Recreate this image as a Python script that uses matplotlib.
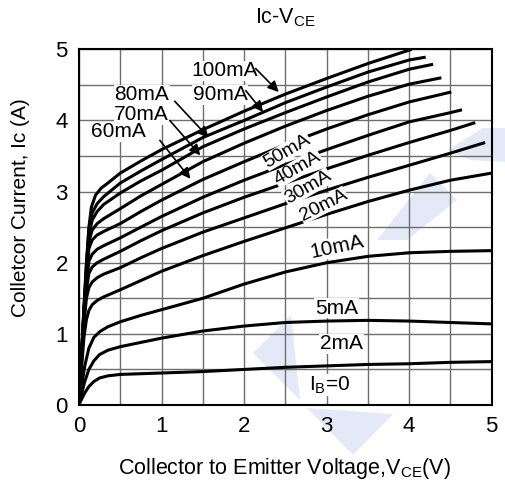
import numpy as np
import matplotlib
matplotlib.use("Agg")
import matplotlib.pyplot as plt
from matplotlib.patches import Polygon

plt.rcParams['font.family'] = ['Liberation Sans', 'DejaVu Sans']
plt.rcParams['mathtext.fontset'] = 'custom'
plt.rcParams['mathtext.rm'] = 'Liberation Sans'
plt.rcParams['mathtext.it'] = 'Liberation Sans:italic'

# Ic-VCE curves (V, A)
vce_2 = [0, 0.03, 0.07, 0.12, 0.18, 0.25, 0.35, 0.5, 1.0, 1.5, 2.0, 2.5, 3.0, 3.5, 4.0, 4.5, 5.0]
ic_2 = [0, 0.08, 0.17, 0.26, 0.33, 0.38, 0.41, 0.43, 0.45, 0.47, 0.50, 0.53, 0.55, 0.57, 0.58, 0.60, 0.61]

vce_5 = [0, 0.03, 0.07, 0.12, 0.18, 0.25, 0.35, 0.5, 0.75, 1.0, 1.5, 2.0, 2.5, 3.0, 3.5, 4.0, 4.5, 5.0]
ic_5 = [0, 0.15, 0.33, 0.50, 0.62, 0.71, 0.77, 0.82, 0.88, 0.94, 1.04, 1.11, 1.16, 1.18, 1.19, 1.18, 1.16, 1.14]

vce_10 = [0, 0.03, 0.07, 0.12, 0.18, 0.25, 0.35, 0.5, 0.75, 1.0, 1.5, 2.0, 2.5, 3.0, 3.5, 4.0, 4.5, 5.0]
ic_10 = [0, 0.25, 0.55, 0.80, 0.95, 1.03, 1.10, 1.17, 1.26, 1.34, 1.50, 1.70, 1.87, 2.00, 2.09, 2.14, 2.16, 2.17]

vce_20 = [0, 0.03, 0.06, 0.09, 0.12, 0.16, 0.22, 0.3, 0.5, 0.75, 1.0, 1.5, 2.0, 2.5, 3.0, 3.5, 4.0, 4.5, 5.0]
ic_20 = [0, 0.5, 0.95, 1.2, 1.33, 1.41, 1.47, 1.52, 1.62, 1.75, 1.88, 2.10, 2.30, 2.49, 2.68, 2.86, 3.02, 3.16, 3.26]

vce_30 = [0, 0.03, 0.06, 0.09, 0.12, 0.16, 0.22, 0.3, 0.5, 0.75, 1.0, 1.5, 2.0, 2.5, 3.0, 3.5, 4.0, 4.5, 4.92]
ic_30 = [0, 0.6, 1.15, 1.5, 1.65, 1.73, 1.79, 1.84, 1.93, 2.07, 2.20, 2.43, 2.63, 2.83, 3.02, 3.20, 3.37, 3.54, 3.69]

vce_40 = [0, 0.03, 0.06, 0.09, 0.12, 0.16, 0.22, 0.3, 0.5, 0.75, 1.0, 1.5, 2.0, 2.5, 3.0, 3.5, 4.0, 4.5, 4.8]
ic_40 = [0, 0.62, 1.2, 1.62, 1.85, 1.94, 2.0, 2.05, 2.16, 2.31, 2.45, 2.70, 2.92, 3.12, 3.32, 3.51, 3.69, 3.86, 3.97]

vce_50 = [0, 0.03, 0.06, 0.09, 0.12, 0.16, 0.22, 0.3, 0.5, 0.75, 1.0, 1.5, 2.0, 2.5, 3.0, 3.5, 4.0, 4.5, 4.64]
ic_50 = [0, 0.64, 1.25, 1.72, 2.02, 2.12, 2.19, 2.24, 2.35, 2.50, 2.65, 2.92, 3.16, 3.38, 3.59, 3.79, 3.98, 4.11, 4.15]

vce_60 = [0, 0.03, 0.06, 0.09, 0.12, 0.16, 0.22, 0.3, 0.5, 0.75, 1.0, 1.5, 2.0, 2.5, 3.0, 3.5, 4.0, 4.51]
ic_60 = [0, 0.65, 1.28, 1.8, 2.2, 2.32, 2.39, 2.44, 2.55, 2.72, 2.88, 3.17, 3.42, 3.66, 3.88, 4.08, 4.26, 4.40]

vce_70 = [0, 0.03, 0.06, 0.09, 0.12, 0.16, 0.22, 0.3, 0.5, 0.75, 1.0, 1.5, 2.0, 2.5, 3.0, 3.5, 4.0, 4.39]
ic_70 = [0, 0.66, 1.3, 1.85, 2.3, 2.46, 2.55, 2.62, 2.76, 2.94, 3.10, 3.42, 3.68, 3.92, 4.14, 4.34, 4.51, 4.60]

vce_80 = [0, 0.03, 0.06, 0.09, 0.12, 0.16, 0.22, 0.3, 0.5, 0.75, 1.0, 1.5, 2.0, 2.5, 3.0, 3.5, 4.0, 4.29]
ic_80 = [0, 0.67, 1.32, 1.9, 2.38, 2.6, 2.72, 2.82, 2.98, 3.15, 3.30, 3.63, 3.88, 4.11, 4.33, 4.54, 4.72, 4.79]

vce_90 = [0, 0.03, 0.06, 0.09, 0.12, 0.16, 0.22, 0.3, 0.5, 0.75, 1.0, 1.5, 2.0, 2.5, 3.0, 3.5, 4.0, 4.2]
ic_90 = [0, 0.68, 1.34, 1.95, 2.45, 2.7, 2.83, 2.93, 3.12, 3.29, 3.45, 3.76, 4.00, 4.25, 4.47, 4.68, 4.85, 4.89]

vce_100 = [0, 0.03, 0.06, 0.09, 0.12, 0.15, 0.2, 0.27, 0.35, 0.5, 0.75, 1.0, 1.5, 2.0, 2.5, 3.0, 3.5, 4.03]
ic_100 = [0, 0.7, 1.38, 2.0, 2.5, 2.78, 2.95, 3.05, 3.12, 3.26, 3.43, 3.59, 3.87, 4.13, 4.37, 4.59, 4.80, 5.0]

curves = [(vce_2, ic_2), (vce_5, ic_5), (vce_10, ic_10), (vce_20, ic_20),
          (vce_30, ic_30), (vce_40, ic_40), (vce_50, ic_50), (vce_60, ic_60),
          (vce_70, ic_70), (vce_80, ic_80), (vce_90, ic_90), (vce_100, ic_100)]

x_ticks = [0, 1, 2, 3, 4, 5]
y_ticks = [0, 1, 2, 3, 4, 5]

W, H = 505, 484
fig = plt.figure(figsize=(W / 100, H / 100), dpi=100)
ax = fig.add_axes([0.1564, 0.1632, 0.8173, 0.7349])

# faint watermark logo behind the grid (pixel outlines, figure space)
wm_shapes = [
    [(253, 353), (291, 315), (300, 400)],
    [(307, 408), (393, 414), (353, 455)],
    [(448, 150), (483, 128), (505, 128), (505, 162), (470, 160)],
    [(377, 240), (430, 173), (457, 200), (407, 240)],
]
for shp in wm_shapes:
    pts = [(px / W, 1 - py / H) for px, py in shp]
    ax.add_patch(Polygon(pts, closed=True, transform=fig.transFigure,
                         facecolor='#e3e9f6', edgecolor='none', zorder=0.2, clip_on=False))

for v, i in curves:
    ax.plot(v, i, color='black', lw=2.2, solid_capstyle='butt', zorder=3)

ax.set_xlim(0, 5)
ax.set_ylim(0, 5)
ax.set_xticks(x_ticks)
ax.set_yticks(y_ticks)
ax.set_xticks(np.arange(0, 5.01, 0.5), minor=True)
ax.set_yticks(np.arange(0, 5.01, 0.5), minor=True)
ax.grid(True, which='both', color='#6e6e6e', lw=1.0)
ax.set_axisbelow(True)
ax.tick_params(which='both', length=0, labelsize=16)
ax.tick_params(axis='x', pad=8)
ax.tick_params(axis='y', pad=8)
for s in ax.spines.values():
    s.set_linewidth(1.5)
    s.set_zorder(4)

# horizontal labels with arrows
fs = 15
box = dict(facecolor='white', edgecolor='none', pad=0.5)
arrow = dict(arrowstyle='-|>', color='black', lw=1.2, mutation_scale=16, shrinkA=0, shrinkB=0)
ax.text(1.76, 4.70, '100mA', fontsize=fs, ha='center', va='center', bbox=box, zorder=5)
ax.annotate('', xy=(2.42, 4.40), xytext=(2.14, 4.73), arrowprops=arrow, zorder=6)
ax.text(1.71, 4.36, '90mA', fontsize=fs, ha='center', va='center', bbox=box, zorder=5)
ax.annotate('', xy=(2.23, 4.12), xytext=(2.02, 4.42), arrowprops=arrow, zorder=6)
ax.text(0.76, 4.36, '80mA', fontsize=fs, ha='center', va='center', bbox=box, zorder=5)
ax.annotate('', xy=(1.57, 3.76), xytext=(1.16, 4.27), arrowprops=arrow, zorder=6)
ax.text(0.76, 4.08, '70mA', fontsize=fs, ha='center', va='center', bbox=box, zorder=5)
ax.annotate('', xy=(1.47, 3.51), xytext=(1.10, 4.00), arrowprops=arrow, zorder=6)
ax.text(0.48, 3.84, '60mA', fontsize=fs, ha='center', va='center', bbox=box, zorder=5)
ax.annotate('', xy=(1.35, 3.18), xytext=(0.98, 3.72), arrowprops=arrow, zorder=6)

# labels along the curves
rbox = dict(facecolor='white', edgecolor='none', pad=0.2)
ax.text(2.52, 3.57, '50mA', fontsize=14, rotation=30, ha='center', va='center', bbox=rbox, zorder=5)
ax.text(2.65, 3.33, '40mA', fontsize=14, rotation=30, ha='center', va='center', bbox=rbox, zorder=5)
ax.text(2.77, 3.06, '30mA', fontsize=14, rotation=30, ha='center', va='center', bbox=rbox, zorder=5)
ax.text(2.96, 2.81, '20mA', fontsize=14, rotation=27, ha='center', va='center', bbox=rbox, zorder=5)
ax.text(3.12, 2.22, '10mA', fontsize=fs, rotation=12, ha='center', va='center', bbox=box, zorder=5)
ax.text(3.12, 1.36, '5mA', fontsize=fs, ha='center', va='center', bbox=box, zorder=5)
ax.text(3.18, 0.86, '2mA', fontsize=fs, ha='center', va='center', bbox=box, zorder=5)
ax.text(3.04, 0.28, r'I$_{\mathrm{B}}$=0', fontsize=fs, ha='center', va='center', bbox=box, zorder=5)

fig.text(0.565, 0.963, r'Ic-V$_{\mathrm{CE}}$', fontsize=15.5, ha='center', va='center')
fig.text(0.564, 0.033, r'Collector to Emitter Voltage,V$_{\mathrm{CE}}$(V)', fontsize=15.5,
         ha='center', va='center')
fig.text(0.040, 0.570, 'Colletcor Current, Ic (A)', fontsize=15, rotation=90,
         ha='center', va='center')

fig.savefig('out.png', dpi=100)
